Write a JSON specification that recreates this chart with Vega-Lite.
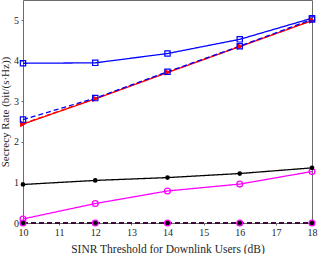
{
  "$schema": "https://vega.github.io/schema/vega-lite/v6.json",
  "width": 289,
  "height": 223,
  "autosize": {"type": "none"},
  "padding": {"left": 23, "top": 0, "right": 7, "bottom": 31},
  "background": "white",
  "config": {
    "view": {"stroke": "#6b6b6b", "strokeWidth": 1},
    "font": "Liberation Serif",
    "axis": {
      "labelFont": "Liberation Serif",
      "labelFontSize": 10,
      "labelColor": "#262626",
      "labelFlush": false,
      "labelOverlap": false,
      "titleFont": "Liberation Serif",
      "titleFontSize": 11,
      "titleFontWeight": "normal",
      "titleColor": "#262626",
      "tickColor": "#6b6b6b",
      "tickWidth": 1,
      "tickSize": 2,
      "domain": false,
      "grid": false
    }
  },
  "data": {
    "values": [
      {"series": "Benchmark1,K=2", "x": 10, "y": 0.1},
      {"series": "Benchmark1,K=2", "x": 12, "y": 0.48},
      {"series": "Benchmark1,K=2", "x": 14, "y": 0.79},
      {"series": "Benchmark1,K=2", "x": 16, "y": 0.96},
      {"series": "Benchmark1,K=2", "x": 18, "y": 1.27},
      {"series": "Benchmark2,K=2", "x": 10, "y": 0.95},
      {"series": "Benchmark2,K=2", "x": 12, "y": 1.05},
      {"series": "Benchmark2,K=2", "x": 14, "y": 1.12},
      {"series": "Benchmark2,K=2", "x": 16, "y": 1.22},
      {"series": "Benchmark2,K=2", "x": 18, "y": 1.36},
      {"series": "SDR,K=2", "x": 10, "y": 2.44},
      {"series": "SDR,K=2", "x": 12, "y": 3.06},
      {"series": "SDR,K=2", "x": 14, "y": 3.71},
      {"series": "SDR,K=2", "x": 16, "y": 4.35},
      {"series": "SDR,K=2", "x": 18, "y": 4.99},
      {"series": "ZF,K=2", "x": 10, "y": 3.94},
      {"series": "ZF,K=2", "x": 12, "y": 3.95},
      {"series": "ZF,K=2", "x": 14, "y": 4.18},
      {"series": "ZF,K=2", "x": 16, "y": 4.53},
      {"series": "ZF,K=2", "x": 18, "y": 5.05},
      {"series": "Benchmark1,K=4", "x": 10, "y": 0},
      {"series": "Benchmark1,K=4", "x": 12, "y": 0},
      {"series": "Benchmark1,K=4", "x": 14, "y": 0},
      {"series": "Benchmark1,K=4", "x": 16, "y": 0},
      {"series": "Benchmark1,K=4", "x": 18, "y": 0},
      {"series": "Benchmark2,K=4", "x": 10, "y": 0},
      {"series": "Benchmark2,K=4", "x": 12, "y": 0},
      {"series": "Benchmark2,K=4", "x": 14, "y": 0},
      {"series": "Benchmark2,K=4", "x": 16, "y": 0},
      {"series": "Benchmark2,K=4", "x": 18, "y": 0},
      {"series": "SDR,K=4", "x": 10, "y": 2.45},
      {"series": "SDR,K=4", "x": 12, "y": 3.07},
      {"series": "SDR,K=4", "x": 14, "y": 3.72},
      {"series": "SDR,K=4", "x": 16, "y": 4.36},
      {"series": "SDR,K=4", "x": 18, "y": 5.0},
      {"series": "ZF,K=4", "x": 10, "y": 2.55},
      {"series": "ZF,K=4", "x": 12, "y": 3.08},
      {"series": "ZF,K=4", "x": 14, "y": 3.73},
      {"series": "ZF,K=4", "x": 16, "y": 4.36},
      {"series": "ZF,K=4", "x": 18, "y": 5.02}
    ]
  },
  "layer": [
    {
      "mark": {"type": "line", "strokeWidth": 1.3},
      "encoding": {
        "x": {"field": "x", "type": "quantitative",
          "scale": {"domain": [10, 18], "nice": false, "zero": false},
          "axis": {"values": [10, 11, 12, 13, 14, 15, 16, 17, 18], "tickCount": 9, "labelOverlap": false, "labelPadding": 2, "title": "SINR Threshold for Downlink Users (dB)", "titleFontSize": 11.5, "titlePadding": 6}},
        "y": {"field": "y", "type": "quantitative",
          "scale": {"domain": [0, 5.5], "nice": false},
          "axis": {"values": [0, 1, 2, 3, 4, 5], "labelPadding": 2.5, "title": "Secrecy Rate (bit/(s·Hz))", "titlePadding": 3}},
        "color": {"field": "series", "type": "nominal",
          "scale": {"domain": ["Benchmark1,K=2", "Benchmark2,K=2", "SDR,K=2", "ZF,K=2", "Benchmark1,K=4", "Benchmark2,K=4", "SDR,K=4", "ZF,K=4"],
                    "range": ["#ff00ff", "#000000", "#ff0000", "#0000ff", "#ff00ff", "#000000", "#ff0000", "#0000ff"]},
          "legend": null},
        "strokeDash": {"field": "series", "type": "nominal",
          "scale": {"domain": ["Benchmark1,K=2", "Benchmark2,K=2", "SDR,K=2", "ZF,K=2", "Benchmark1,K=4", "Benchmark2,K=4", "SDR,K=4", "ZF,K=4"],
                    "range": [[1, 0], [1, 0], [1, 0], [1, 0], [5, 3], [5, 3], [5, 3], [5, 3]]},
          "legend": null}
      }
    },
    {
      "transform": [{"filter": {"field": "series", "oneOf": ["Benchmark1,K=2", "Benchmark1,K=4"]}}],
      "mark": {"type": "point", "shape": "circle", "filled": false, "size": 34, "strokeWidth": 1.3, "opacity": 1},
      "encoding": {
        "x": {"field": "x", "type": "quantitative"},
        "y": {"field": "y", "type": "quantitative"},
        "color": {"field": "series", "type": "nominal", "legend": null}
      }
    },
    {
      "transform": [{"filter": {"field": "series", "oneOf": ["Benchmark2,K=2", "Benchmark2,K=4"]}}],
      "mark": {"type": "point", "shape": "circle", "filled": true, "size": 22, "opacity": 1},
      "encoding": {
        "x": {"field": "x", "type": "quantitative"},
        "y": {"field": "y", "type": "quantitative"},
        "color": {"field": "series", "type": "nominal", "legend": null}
      }
    },
    {
      "transform": [{"filter": {"field": "series", "oneOf": ["SDR,K=2", "SDR,K=4"]}}],
      "mark": {"type": "point", "shape": "triangle-right", "filled": true, "size": 40, "opacity": 1},
      "encoding": {
        "x": {"field": "x", "type": "quantitative"},
        "y": {"field": "y", "type": "quantitative"},
        "color": {"field": "series", "type": "nominal", "legend": null}
      }
    },
    {
      "transform": [{"filter": {"field": "series", "oneOf": ["ZF,K=2", "ZF,K=4"]}}],
      "mark": {"type": "point", "shape": "square", "filled": false, "size": 28, "strokeWidth": 1.2, "opacity": 1},
      "encoding": {
        "x": {"field": "x", "type": "quantitative"},
        "y": {"field": "y", "type": "quantitative"},
        "color": {"field": "series", "type": "nominal", "legend": null}
      }
    },
    {
      "mark": {"type": "point", "opacity": 1, "strokeWidth": 1.3, "size": 729, "clip": true},
      "encoding": {
        "x": {"field": "y", "type": "quantitative"},
        "y": {"field": "y", "type": "quantitative"},
        "shape": {"field": "series", "type": "nominal",
          "scale": {"domain": ["Benchmark1,K=2", "Benchmark2,K=2", "SDR,K=2", "ZF,K=2", "Benchmark1,K=4", "Benchmark2,K=4", "SDR,K=4", "ZF,K=4"],
                    "range": [
                      "M-1,0H1M0.24,0A0.24,0.24,0,1,1,-0.24,0A0.24,0.24,0,1,1,0.24,0Z",
                      "M-1,0H1M0.18,0A0.18,0.18,0,1,1,-0.18,0A0.18,0.18,0,1,1,0.18,0Z",
                      "M-1,0H1M-0.22,-0.26L0.26,0L-0.22,0.26Z",
                      "M-1,0H1M-0.2,-0.2H0.2V0.2H-0.2Z",
                      "M-1,0H-0.7M0.7,0H1M0.24,0A0.24,0.24,0,1,1,-0.24,0A0.24,0.24,0,1,1,0.24,0Z",
                      "M-1,0H-0.7M0.7,0H1M0.18,0A0.18,0.18,0,1,1,-0.18,0A0.18,0.18,0,1,1,0.18,0Z",
                      "M-1,0H-0.7M0.7,0H1M-0.22,-0.26L0.26,0L-0.22,0.26Z",
                      "M-1,0H-0.7M0.7,0H1M-0.2,-0.2H0.2V0.2H-0.2Z"
                    ]},
          "legend": {"title": null, "orient": "none", "legendX": 177, "legendY": 67}},
        "stroke": {"field": "series", "type": "nominal",
          "scale": {"domain": ["Benchmark1,K=2", "Benchmark2,K=2", "SDR,K=2", "ZF,K=2", "Benchmark1,K=4", "Benchmark2,K=4", "SDR,K=4", "ZF,K=4"],
                    "range": ["#ff00ff", "#000000", "#ff0000", "#0000ff", "#ff00ff", "#000000", "#ff0000", "#0000ff"]}},
        "fill": {"field": "series", "type": "nominal",
          "scale": {"domain": ["Benchmark1,K=2", "Benchmark2,K=2", "SDR,K=2", "ZF,K=2", "Benchmark1,K=4", "Benchmark2,K=4", "SDR,K=4", "ZF,K=4"],
                    "range": ["transparent", "#000000", "#ff0000", "transparent", "transparent", "#000000", "#ff0000", "transparent"]}}
      }
    }
  ]
}
